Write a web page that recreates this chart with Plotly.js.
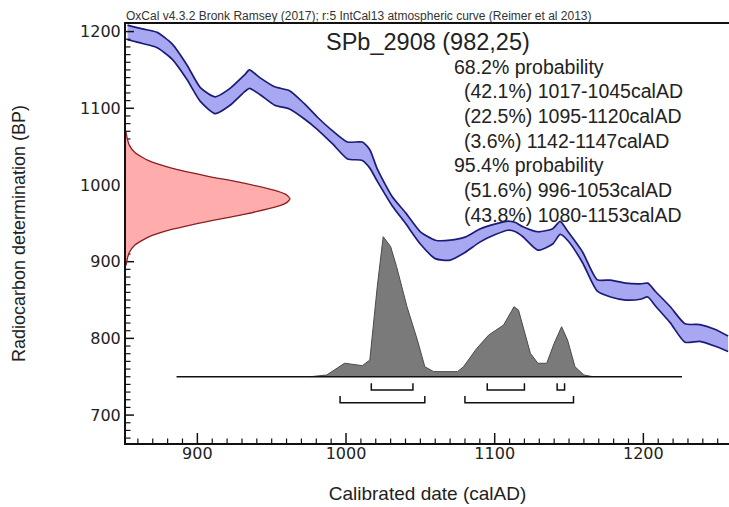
<!DOCTYPE html>
<html>
<head>
<meta charset="utf-8">
<script src="https://cdn.plot.ly/plotly-3.0.1.min.js"></script>
<style>
  html, body { margin: 0; padding: 0; background: #ffffff; }
  #chart { width: 729px; height: 507px; }
</style>
</head>
<body>
<div id="chart"></div>
<script>
// ---------- data ----------
// calibration curve (IntCal13): calendar year, radiocarbon age (BP), 1-sigma
const calYear = [853,863,873,883,893,902,912,922,932,935,942,952,962,972,981,991,1001,1011,1016,1021,1031,1040,1050,1060,1070,1080,1090,1100,1109,1114,1119,1129,1139,1144,1149,1159,1169,1178,1188,1198,1203,1208,1218,1228,1238,1248,1257];
const calBP   = [1199,1194,1189,1174,1147,1118,1104,1115,1133,1138,1129,1116,1111,1096,1080,1062,1045,1044,1034,1013,979,957,931,916,915,922,934,942,947,945,939,927,933,944,934,906,869,865,861,861,863,852,831,807,807,801,793];
const calErr  = [9.5,9.5,10,10,9.5,9,11,11,11,12,11,12,12,10,8,8.5,11,12,12,8,6,7,8,12,13,10,8.5,7,6,6,6.5,12,10,8.5,6,7,7.5,11,11,10,9,9.5,10.5,12,11,11,10];

// radiocarbon measurement SPb_2908: 982 +/- 25 BP (relative probability)
const measBP   = [895,902,912,922,932,942,952,962,972,977,982,987,992,1002,1012,1022,1032,1042,1052,1062,1069];
const measProb = [0,0.006,0.02,0.056,0.135,0.278,0.487,0.726,0.923,0.98,1,0.98,0.923,0.726,0.487,0.278,0.135,0.056,0.02,0.006,0];

// calibrated (posterior) distribution, relative probability
const postYear = [976,987,999,1003,1011,1016,1021,1025,1030,1034,1041,1048,1053,1059,1075,1079,1088,1096,1106,1113,1116,1124,1129,1135,1140,1145,1149,1154,1160,1166];
const postProb = [0,0.012,0.096,0.089,0.079,0.119,0.643,1.0,0.929,0.786,0.5,0.262,0.071,0.036,0.036,0.071,0.203,0.298,0.369,0.5,0.476,0.167,0.096,0.096,0.238,0.357,0.262,0.071,0.012,0];
const postSpan = [886, 1226];

// highest probability ranges
const range68 = [[1017,1045],[1095,1120],[1142,1147]];
const pct68   = [42.1, 22.5, 3.6];
const range95 = [[996,1053],[1080,1153]];
const pct95   = [51.6, 43.8];

// axis ticks
const xMajor = [900, 1000, 1100, 1200];
const yMajor = [700, 800, 900, 1000, 1100, 1200];
const minorStep = 10;

const sampleName = 'SPb_2908';
const sampleAge = 982, sampleSd = 25;
const headerText = 'OxCal v4.3.2 Bronk Ramsey (2017); r:5 IntCal13 atmospheric curve (Reimer et al 2013)';

// ---------- layout constants ----------
const W = 729, H = 507, ML = 126, MR = 0, MT = 24, MB = 64;
const PW = W - ML - MR, PH = H - MT - MB;
const px2x = p => (p - ML) / PW;
const py2y = p => (H - MB - p) / PH;
const XR = [852, 1257.6], YR = [663.6, 1209.9];
const xPerPx = (XR[1] - XR[0]) / PW, yPerPx = (YR[1] - YR[0]) / PH;

const NAVY = '#1c1c78';
const FONT = '"Liberation Sans", Arial, Helvetica, sans-serif';

// ---------- traces ----------
const upper = calBP.map((v, i) => v + calErr[i]);
const lower = calBP.map((v, i) => v - calErr[i]);

const traces = [];
traces.push({
  x: calYear, y: lower, xaxis: 'x', yaxis: 'y', mode: 'lines',
  line: { color: NAVY, width: 1.7, shape: 'spline', smoothing: 0.6 },
  hoverinfo: 'skip', showlegend: false
});
traces.push({
  x: calYear, y: upper, xaxis: 'x', yaxis: 'y', mode: 'lines',
  fill: 'tonexty', fillcolor: 'rgba(168,168,242,1)',
  line: { color: NAVY, width: 1.7, shape: 'spline', smoothing: 0.6 },
  hoverinfo: 'skip', showlegend: false
});
traces.push({
  x: measProb, y: measBP, xaxis: 'x2', yaxis: 'y', mode: 'lines',
  fill: 'tozerox', fillcolor: 'rgba(255,172,172,1)',
  line: { color: '#8c1f24', width: 1.3, shape: 'spline', smoothing: 0.5 },
  hoverinfo: 'skip', showlegend: false
});
traces.push({
  x: postYear, y: postProb, xaxis: 'x', yaxis: 'y2', mode: 'lines',
  fill: 'tozeroy', fillcolor: 'rgba(122,122,122,1)',
  line: { color: '#4a4a4a', width: 1 },
  hoverinfo: 'skip', showlegend: false
});
traces.push({
  x: postSpan, y: [0, 0], xaxis: 'x', yaxis: 'y2', mode: 'lines',
  line: { color: '#111111', width: 1.6 },
  hoverinfo: 'skip', showlegend: false
});
const lvl68 = [-0.047, -0.095], lvl95 = [-0.138, -0.186];
function bracket(r, lv) {
  return {
    x: [r[0], r[0], r[1], r[1]], y: [lv[0], lv[1], lv[1], lv[0]],
    xaxis: 'x', yaxis: 'y2', mode: 'lines',
    line: { color: '#111111', width: 1.5 }, hoverinfo: 'skip', showlegend: false
  };
}
range68.forEach(r => traces.push(bracket(r, lvl68)));
range95.forEach(r => traces.push(bracket(r, lvl95)));

// inward tick marks (major every 100, minor every 10), drawn on the axes' own scales
function tickTrace(vals, len, width, isX) {
  const x = [], y = [];
  vals.forEach(v => {
    if (isX) { x.push(v, v, null); y.push(YR[0], YR[0] + len * yPerPx, null); }
    else { y.push(v, v, null); x.push(XR[0], XR[0] + len * xPerPx, null); }
  });
  return { x: x, y: y, xaxis: 'x', yaxis: 'y', mode: 'lines',
    line: { color: '#111111', width: width }, hoverinfo: 'skip', showlegend: false };
}
const xMinor = [], yMinor = [];
for (let v = Math.ceil(XR[0] / minorStep) * minorStep; v <= XR[1]; v += minorStep) if (!xMajor.includes(v)) xMinor.push(v);
for (let v = Math.ceil(YR[0] / minorStep) * minorStep; v <= YR[1]; v += minorStep) if (!yMajor.includes(v)) yMinor.push(v);
traces.push(tickTrace(xMinor, 4.5, 1.2, true));
traces.push(tickTrace(yMinor, 4.5, 1.2, false));
traces.push(tickTrace(xMajor, 10, 1.5, true));
traces.push(tickTrace(yMajor, 8, 1.5, false));

// ---------- text ----------
const lines = [];
lines.push({ t: '68.2% probability', ind: false });
range68.forEach((r, i) => lines.push({ t: '(' + pct68[i].toFixed(1) + '%) ' + r[0] + '-' + r[1] + 'calAD', ind: true }));
lines.push({ t: '95.4% probability', ind: false });
range95.forEach((r, i) => lines.push({ t: '(' + pct95[i].toFixed(1) + '%) ' + r[0] + '-' + r[1] + 'calAD', ind: true }));

const annotations = [
  { text: headerText, xref: 'paper', yref: 'paper', x: px2x(124), y: py2y(16),
    xanchor: 'left', yanchor: 'middle', showarrow: false,
    font: { family: FONT, size: 12, color: '#333' } },
  { text: sampleName + ' (' + sampleAge + ',' + sampleSd + ')', xref: 'paper', yref: 'paper',
    x: px2x(428), y: py2y(42), xanchor: 'center', yanchor: 'middle', showarrow: false,
    font: { family: FONT, size: 23.5, color: '#222' } }
];
lines.forEach((l, i) => annotations.push({
  text: l.t, xref: 'paper', yref: 'paper',
  x: px2x(l.ind ? 462 : 452), y: py2y(66.7 + i * 24.7),
  xanchor: 'left', yanchor: 'middle', showarrow: false,
  font: { family: FONT, size: 19.5, color: '#222' }
}));

const axisCommon = {
  showline: true, linewidth: 2, linecolor: '#111', showgrid: false, zeroline: false,
  ticks: '', layer: 'above traces',
  tickfont: { family: '"DejaVu Sans", sans-serif', size: 16, color: '#222' }
};

const layout = {
  width: W, height: H, margin: { l: ML, r: MR, t: MT, b: MB },
  paper_bgcolor: '#ffffff', plot_bgcolor: '#ffffff', showlegend: false,
  xaxis: Object.assign({}, axisCommon, {
    range: XR, tickmode: 'array', tickvals: xMajor, ticktext: xMajor.map(String), mirror: true,
    ticklabelposition: 'outside', ticklabelstandoff: -5,
    title: { text: 'Calibrated date (calAD)', standoff: 24, font: { family: FONT, size: 19, color: '#222' } }
  }),
  yaxis: Object.assign({}, axisCommon, {
    range: YR, tickmode: 'array', tickvals: yMajor, ticktext: yMajor.map(String),
    title: { text: 'Radiocarbon determination (BP)', standoff: 50, font: { family: FONT, size: 18, color: '#222' } }
  }),
  xaxis2: { overlaying: 'x', range: [0, 3.677], visible: false, fixedrange: true },
  yaxis2: { overlaying: 'y', range: [-0.4736, 2.519], visible: false, fixedrange: true },
  annotations: annotations
};

Plotly.newPlot('chart', traces, layout, { staticPlot: true, displayModeBar: false });
</script>
</body>
</html>
